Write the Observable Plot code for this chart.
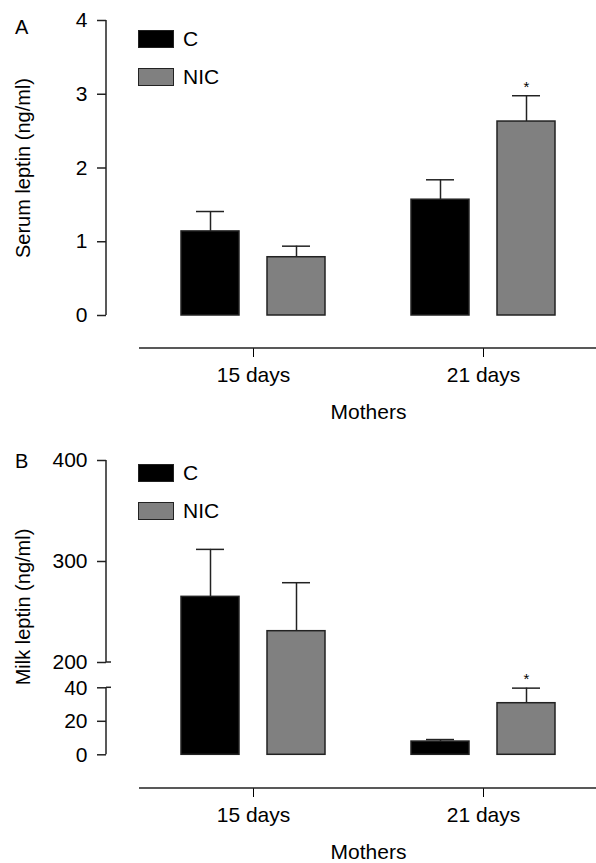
<!DOCTYPE html>
<html><head><meta charset="utf-8">
<script src="https://cdn.jsdelivr.net/npm/d3@7"></script>
<script src="https://cdn.jsdelivr.net/npm/@observablehq/plot@0.6"></script>
<style>
body{margin:0;background:#fff;font-family:"Liberation Sans",Arial,sans-serif;}
#wrap{position:relative;width:596px;height:863px;overflow:hidden;}
.panel{position:absolute;left:0;width:596px;}
.letter{position:absolute;font-size:20px;line-height:20px;}
.leg{position:absolute;display:flex;align-items:center;height:18px;font-size:21px;line-height:18px;}
.sw{width:36px;height:18px;box-sizing:border-box;border:1.5px solid #222;margin-right:9px;}
.ylab{position:absolute;font-size:20px;line-height:20px;white-space:nowrap;transform:translate(-50%,-50%) rotate(-90deg);}
</style></head><body>
<div id="wrap">
  <div id="pA" class="panel" style="top:0;height:440px"></div>
  <div id="pB" class="panel" style="top:440px;height:423px"></div>
</div>
<script>
// ---- data ----
const days = ["15 days", "21 days"];
const groups = ["C", "NIC"];
const groupColors = ["#000000", "#808080"];
const xTitle = "Mothers";

const serumC = [1.14, 1.57];
const serumNIC = [0.79, 2.63];
const serumSemC = [0.27, 0.27];
const serumSemNIC = [0.15, 0.35];
const serumStarNIC = [false, true];
const serumTicks = [0, 1, 2, 3, 4];

const milkC = [265, 7.9];
const milkNIC = [231, 30.8];
const milkSemC = [47, 1.2];
const milkSemNIC = [48, 9];
const milkStarNIC = [false, true];
const milkTicks = [0, 20, 40, 200, 300, 400];
const milkBreak = [40, 200];

const FONT = "'Liberation Sans', Arial, sans-serif";
const INK = "#222";

function rows(meanC, meanN, semC, semN, starN) {
  const out = [];
  days.forEach((d, i) => {
    out.push({day: d, group: "C", value: meanC[i], hi: meanC[i] + semC[i], star: false});
    out.push({day: d, group: "NIC", value: meanN[i], hi: meanN[i] + semN[i], star: starN[i]});
  });
  return out;
}

function panel(el, {height, data, yDomain, yRange, ticks, yLabel, letter, legendTop, brk}) {
  const chart = Plot.plot({
    width: 596, height, marginLeft: 106, marginRight: 0, marginTop: 20, marginBottom: height - 348,
    style: {fontFamily: FONT, fontSize: "21px", color: "#000", overflow: "visible", background: "transparent"},
    fx: {domain: days, range: [138, 598], padding: 0, axis: "bottom", label: xTitle, labelAnchor: "center", labelOffset: 70, tickSize: 9, tickPadding: 10},
    x: {domain: groups, paddingInner: 0.326, paddingOuter: 0.5, axis: null},
    y: {type: "linear", domain: yDomain, range: yRange, axis: null},
    color: {domain: groups, range: groupColors},
    marks: [
      Plot.axisY(ticks, {dx: -32, tickSize: 9, tickPadding: 10, fontSize: 21, stroke: INK, strokeWidth: 1.5,
        tickFormat: d => String(d), label: null}),
      Plot.ruleX(data, {fx: "day", x: "group", y1: "value", y2: "hi", stroke: INK, strokeWidth: 1.5}),
      Plot.tickY(data, {fx: "day", x: "group", y: "hi", stroke: INK, strokeWidth: 1.5, insetLeft: 15, insetRight: 15}),
      Plot.barY(data, {fx: "day", x: "group", y1: 0, y2: "value", fill: "group", stroke: INK, strokeWidth: 1.5}),
      Plot.text(data.filter(d => d.star), {fx: "day", x: "group", y: "hi", text: () => "*", dy: -4, lineAnchor: "bottom", fontSize: 15})
    ]
  });
  el.appendChild(chart);
  // axis lines drawn from the chart's own scales
  const y = chart.scale("y"), fx = chart.scale("fx");
  const svg = d3.select(chart);
  const g = svg.append("g").attr("stroke", INK).attr("stroke-width", 1.5).attr("fill", "none");
  const ax = 106;
  const segs = brk ? [[yDomain[0], brk[0]], [brk[1], yDomain[yDomain.length - 1]]] : [[yDomain[0], yDomain[yDomain.length - 1]]];
  segs.forEach(([a, b]) => g.append("line").attr("x1", ax).attr("x2", ax).attr("y1", y.apply(a)).attr("y2", y.apply(b)));
  if (brk) brk.forEach(v => g.append("line").attr("x1", ax).attr("x2", ax + 5).attr("y1", y.apply(v)).attr("y2", y.apply(v)));
  g.append("line").attr("x1", fx.range[0] + 1).attr("x2", 596).attr("y1", 348).attr("y2", 348);
  // y title, centred on the y scale's extent
  const yl = document.createElement("div");
  yl.className = "ylab"; yl.style.left = "23px";
  yl.style.top = ((y.apply(yDomain[0]) + y.apply(yDomain[yDomain.length - 1])) / 2) + "px";
  yl.textContent = yLabel;
  el.appendChild(yl);
  // legend + letter
  const lt = document.createElement("div");
  lt.className = "letter"; lt.style.left = "15px"; lt.style.top = (legendTop - 13) + "px"; lt.textContent = letter;
  el.appendChild(lt);
  groups.forEach((gname, i) => {
    const d = document.createElement("div");
    d.className = "leg"; d.style.left = "138px"; d.style.top = (legendTop + i * 38) + "px";
    d.innerHTML = `<div class="sw" style="background:${groupColors[i]}"></div><span>${gname}</span>`;
    el.appendChild(d);
  });
}

panel(document.getElementById("pA"), {
  height: 440,
  data: rows(serumC, serumNIC, serumSemC, serumSemNIC, serumStarNIC),
  yDomain: [0, 4], yRange: [315, 20], ticks: serumTicks,
  yLabel: "Serum leptin (ng/ml)", letter: "A", legendTop: 30
});
panel(document.getElementById("pB"), {
  height: 423,
  data: rows(milkC, milkNIC, milkSemC, milkSemNIC, milkStarNIC),
  yDomain: [0, 40, 200, 400], yRange: [314.3, 247.3, 222, 20], ticks: milkTicks,
  yLabel: "Milk leptin (ng/ml)", letter: "B", legendTop: 24, brk: milkBreak
});
</script>
</body></html>
